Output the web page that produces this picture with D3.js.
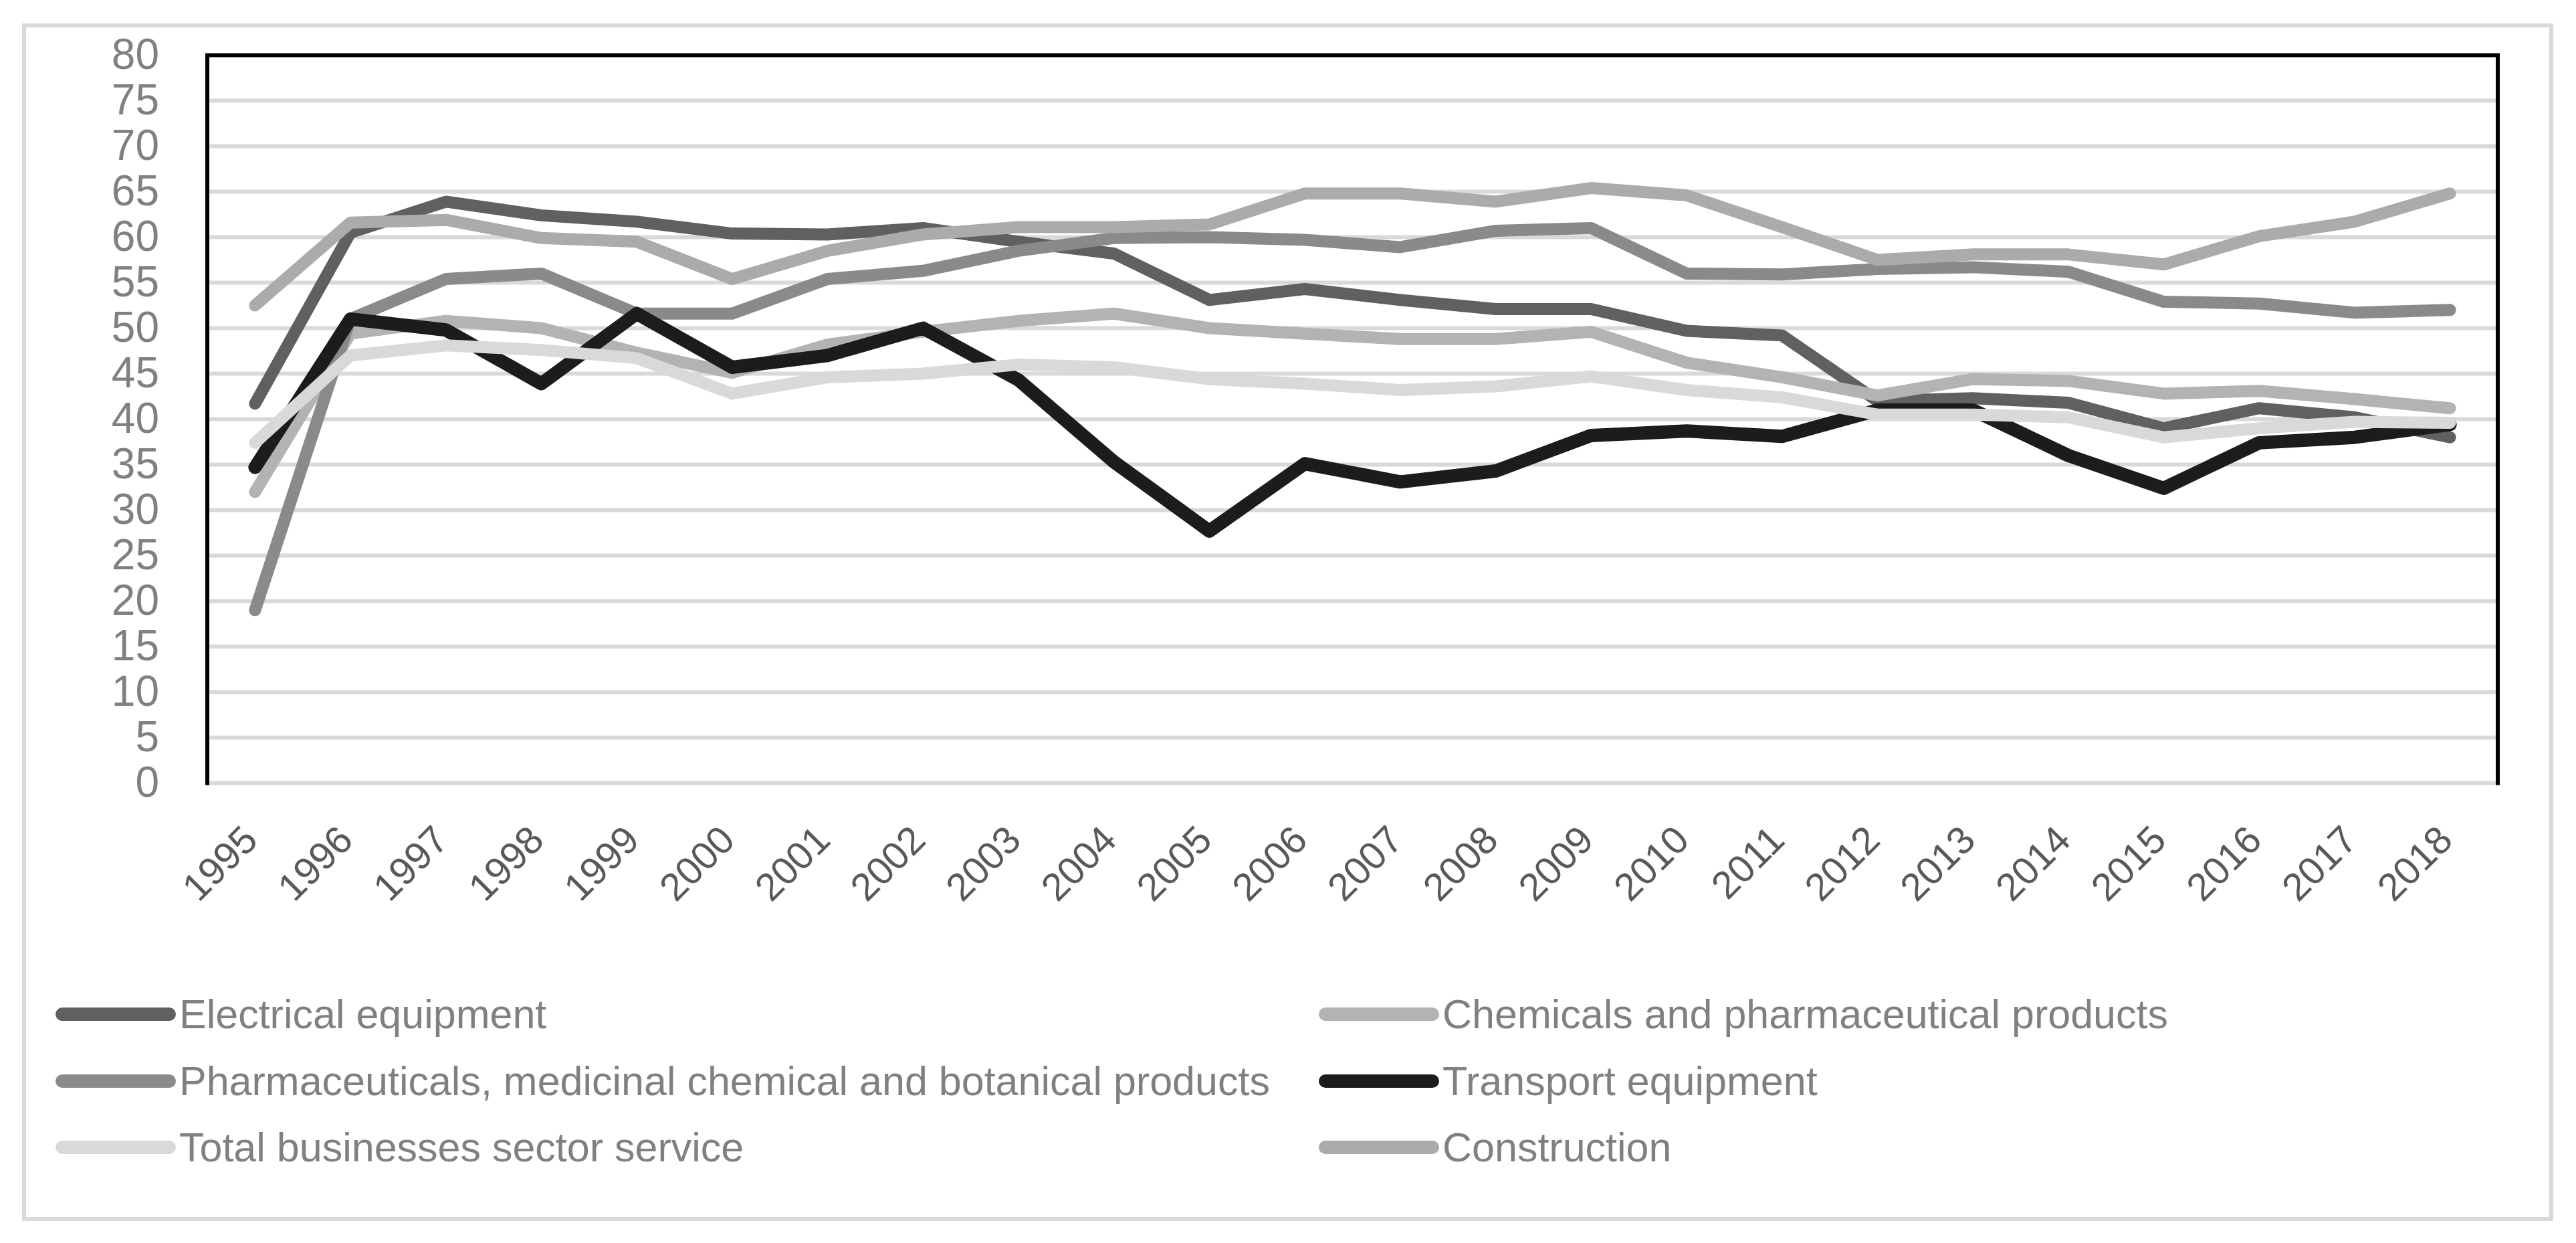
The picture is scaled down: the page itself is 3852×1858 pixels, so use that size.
<!DOCTYPE html>
<html>
<head>
<meta charset="utf-8">
<script src="https://cdn.jsdelivr.net/npm/d3@7"></script>
<style>
    body { margin: 0; background: #fff; }
    text { font-family: "Liberation Sans", Arial, sans-serif; }
</style>
</head>
<body>
<div id="chart"></div>
<script>
var years = ["1995", "1996", "1997", "1998", "1999", "2000", "2001", "2002", "2003", "2004", "2005", "2006",
    "2007", "2008", "2009", "2010", "2011", "2012", "2013", "2014", "2015", "2016", "2017", "2018"]

var yTicks = [0, 5, 10, 15, 20, 25, 30, 35, 40, 45, 50, 55, 60, 65, 70, 75, 80]

var seriesNames = ["Electrical equipment", "Chemicals and pharmaceutical products",
    "Pharmaceuticals, medicinal chemical and botanical products", "Transport equipment",
    "Total businesses sector service", "Construction"]

var electrical = [41.7, 60.5, 63.9, 62.4, 61.7, 60.4, 60.3, 61.0, 59.5, 58.2, 53.1, 54.3,
    53.1, 52.1, 52.1, 49.7, 49.2, 42.0, 42.3, 41.8, 39.0, 41.2, 40.2, 38.0]
var chemicals = [32.0, 49.4, 50.8, 50.0, 47.3, 45.1, 48.2, 49.6, 50.8, 51.6, 50.0, 49.4,
    48.8, 48.8, 49.6, 46.2, 44.6, 42.6, 44.4, 44.2, 42.8, 43.1, 42.2, 41.2]
var pharma = [19.0, 51.0, 55.4, 56.0, 51.6, 51.6, 55.4, 56.3, 58.5, 59.9, 60.0, 59.7,
    58.9, 60.7, 61.0, 56.0, 55.9, 56.5, 56.7, 56.2, 52.9, 52.7, 51.7, 52.0]
var transport = [34.7, 51.0, 49.8, 43.9, 51.6, 45.7, 47.0, 50.0, 44.3, 35.3, 27.7, 35.1,
    33.1, 34.3, 38.2, 38.7, 38.1, 41.0, 41.0, 36.0, 32.4, 37.4, 38.0, 39.4]
var total = [37.4, 47.0, 48.1, 47.6, 46.7, 42.8, 44.6, 45.0, 46.0, 45.7, 44.4, 43.9,
    43.2, 43.6, 44.7, 43.2, 42.4, 40.5, 40.5, 40.2, 38.0, 39.0, 39.7, 39.6]
var construction = [52.5, 61.6, 61.9, 59.9, 59.5, 55.4, 58.5, 60.3, 61.1, 61.1, 61.4, 64.8,
    64.8, 63.9, 65.4, 64.6, 61.1, 57.5, 58.1, 58.1, 57.0, 60.1, 61.7, 64.8]

var colors = ["#606060", "#b3b3b3", "#8a8a8a", "#1c1c1c", "#d9d9d9", "#ababab"]
var widths = [18, 18, 18, 20, 18, 18]

var series = [electrical, chemicals, pharma, transport, total, construction].map(function(values, i) {
    return { name: seriesNames[i], color: colors[i], width: widths[i], values: values }
})

var width = 3852,
    height = 1858,
    plot = { left: 310, right: 3735, top: 82.5, bottom: 1170.5 }

var svg = d3.select("#chart").append("svg")
    .attr("width", width)
    .attr("height", height)

// outer chart border
svg.append("rect")
    .attr("x", 36).attr("y", 38)
    .attr("width", 3779).attr("height", 1784)
    .attr("fill", "#fff")
    .attr("stroke", "#d9d9d9")
    .attr("stroke-width", 6)

var x = d3.scalePoint()
    .domain(years)
    .range([plot.left, plot.right])
    .padding(0.5)

var y = d3.scaleLinear()
    .domain([0, 80])
    .range([plot.bottom, plot.top])

// gridlines
svg.append("g")
    .selectAll("line")
    .data(yTicks.slice(0, -1))
    .enter().append("line")
    .attr("x1", plot.left).attr("x2", plot.right)
    .attr("y1", function(d) { return y(d) })
    .attr("y2", function(d) { return y(d) })
    .attr("stroke", "#d9d9d9")
    .attr("stroke-width", 6)

// frame: left, top, right
svg.append("path")
    .attr("d", "M" + plot.left + "," + (plot.bottom + 3) + "V" + plot.top + "H" + plot.right + "V" + (plot.bottom + 3))
    .attr("fill", "none")
    .attr("stroke", "#000")
    .attr("stroke-width", 6)

var yAxis = d3.axisLeft(y).tickValues(yTicks).tickSize(0).tickPadding(72)
svg.append("g")
    .attr("transform", "translate(" + plot.left + ",0)")
    .call(yAxis)
    .call(function(g) { g.select(".domain").remove() })
    .selectAll("text")
    .attr("font-size", 64)
    .attr("font-family", "Liberation Sans, Arial, sans-serif")
    .attr("fill", "#808080")

var xAxis = d3.axisBottom(x).tickSize(0)
svg.append("g")
    .attr("transform", "translate(0," + plot.bottom + ")")
    .call(xAxis)
    .call(function(g) { g.select(".domain").remove() })
    .selectAll("text")
    .attr("font-size", 58)
    .attr("font-family", "Liberation Sans, Arial, sans-serif")
    .attr("fill", "#595959")
    .attr("text-anchor", "end")
    .attr("dy", "0.35em")
    .attr("transform", "translate(-8,74) rotate(-45)")
    .attr("y", 0)

var line = d3.line()
    .x(function(d, i) { return x(years[i]) })
    .y(function(d) { return y(d) })

svg.append("g")
    .selectAll("path")
    .data(series)
    .enter().append("path")
    .attr("d", function(d) { return line(d.values) })
    .attr("fill", "none")
    .attr("stroke", function(d) { return d.color })
    .attr("stroke-width", function(d) { return d.width })
    .attr("stroke-linecap", "round")
    .attr("stroke-linejoin", "round")

// legend, two columns
var legendCols = [83, 1972],
    legendRows = [1516, 1616, 1715]

var legend = svg.append("g")
    .selectAll("g")
    .data(series)
    .enter().append("g")
    .attr("transform", function(d, i) {
        return "translate(" + legendCols[i % 2] + "," + legendRows[Math.floor(i / 2)] + ")"
    })

legend.append("line")
    .attr("x1", 10).attr("x2", 170)
    .attr("stroke", function(d) { return d.color })
    .attr("stroke-width", 20)
    .attr("stroke-linecap", "round")

legend.append("text")
    .attr("x", 185)
    .attr("dy", "0.35em")
    .attr("font-size", 61)
    .attr("fill", "#808080")
    .text(function(d) { return d.name })
</script>
</body>
</html>
